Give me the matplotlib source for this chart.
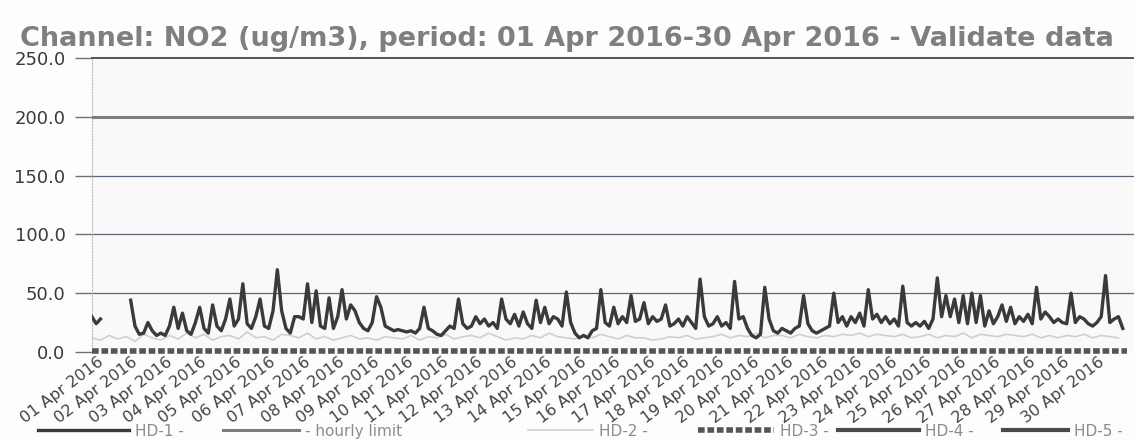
import numpy as np
import matplotlib.pyplot as plt

# NO2 hourly data, read every 3 hours (8 values per day), 01-30 Apr 2016
nan = np.nan
hd1 = [
    30, 24, 28, nan, nan, nan, nan, nan,   # 01
    nan, 44, 22, 15, 16, 25, 18, 14,       # 02
    16, 14, 22, 38, 20, 33, 18, 15,        # 03
    25, 38, 20, 16, 40, 22, 18, 28,        # 04
    45, 22, 28, 58, 24, 20, 30, 45,        # 05
    22, 20, 35, 70, 35, 20, 16, 30,        # 06
    30, 28, 58, 25, 52, 22, 20, 46,        # 07
    20, 30, 53, 28, 40, 35, 25, 20,        # 08
    18, 25, 47, 38, 22, 20, 18, 19,        # 09
    18, 17, 18, 16, 20, 38, 20, 18,        # 10
    15, 14, 18, 22, 20, 45, 24, 20,        # 11
    22, 30, 24, 28, 22, 25, 20, 45,        # 12
    28, 24, 32, 22, 34, 24, 20, 44,        # 13
    25, 38, 24, 30, 28, 22, 51, 25,        # 14
    16, 12, 14, 12, 18, 20, 53, 25,        # 15
    22, 38, 24, 30, 25, 48, 26, 28,        # 16
    42, 24, 30, 26, 28, 40, 22, 24,        # 17
    28, 22, 30, 25, 20, 62, 30, 22,        # 18
    24, 30, 22, 25, 20, 60, 28, 30,        # 19
    20, 14, 12, 15, 55, 28, 18, 16,        # 20
    20, 18, 16, 20, 22, 48, 24, 18,        # 21
    16, 18, 20, 22, 50, 25, 30, 22,        # 22
    30, 25, 33, 22, 53, 28, 32, 25,        # 23
    30, 24, 28, 22, 56, 25, 22, 25,        # 24
    22, 26, 20, 28, 63, 30, 48, 30,        # 25
    45, 25, 48, 24, 50, 25, 48, 22,        # 26
    35, 24, 30, 40, 26, 38, 24, 30,        # 27
    26, 32, 24, 55, 28, 34, 30, 25,        # 28
    28, 25, 24, 50, 25, 30, 28, 24,        # 29
    22, 25, 30, 65, 25, 28, 30, 20,        # 30
]
# faint second station, every 6 hours
hd2 = [
    12, 10, 14, 11, 13, 9, 15, 12, 10, 14, 11, 16, 12, 15, 10, 13,
    14, 11, 17, 12, 13, 10, 15, 14, 12, 16, 11, 13, 10, 12, 14, 11,
    12, 10, 13, 12, 11, 14, 10, 13, 12, 15, 11, 13, 14, 12, 16, 13,
    10, 12, 11, 14, 12, 16, 13, 12, 11, 14, 12, 15, 13, 11, 14, 12,
    12, 10, 11, 13, 12, 14, 11, 12, 13, 15, 12, 14, 13, 16, 12, 14,
    14, 12, 15, 13, 12, 14, 13, 15, 14, 16, 13, 15, 14, 13, 15, 12,
    13, 15, 12, 14, 13, 16, 12, 15, 14, 13, 15, 14, 13, 15, 12, 14,
    12, 14, 13, 15, 12, 14, 13, 12,
]
hd3 = [0.8] * 31
hourly_limit = [200, 200]
days = ["%02d Apr 2016" % d for d in range(1, 31)]
yvals = [0, 50, 100, 150, 200, 250]

t1 = np.arange(len(hd1)) / 8.0
t2 = np.arange(len(hd2)) / 4.0

fig = plt.figure(figsize=(11.34, 4.41), dpi=100)
fig.patch.set_facecolor("#fdfdfd")
ax = fig.add_axes([0.081, 0.202, 0.919, 0.666])
ax.set_facecolor("#f9f9f9")

for v in [50, 100, 150]:
    ax.axhline(v, color="#5a6675", lw=0.9, zorder=1)

l1, = ax.plot(t1, hd1, color="#3a3a3a", lw=2.4, zorder=4, label="HD-1 -")
lh, = ax.plot([0, 30.2], hourly_limit, color="#7d7d7d", lw=2.2, zorder=3, label="- hourly limit")
l2, = ax.plot(t2, hd2, color="#cfcfcf", lw=1.2, zorder=2, label="HD-2 -")
l3, = ax.plot(np.arange(31), hd3, color="#555555", lw=4, ls=(0, (1.2, 0.5)), zorder=5,
              clip_on=False, label="HD-3 -")
l4, = ax.plot([], [], color="#4a4a4a", lw=3, label="HD-4 -")
l5, = ax.plot([], [], color="#4a4a4a", lw=3, label="HD-5 -")

ax.set_xlim(0, 30.2)
ax.set_ylim(0, 250)
ax.set_yticks(yvals)
ax.set_yticklabels(["%.1f" % v for v in yvals], fontsize=13, color="#3a3a3a")
ax.tick_params(axis="y", length=12, width=1.0, color="#707070", pad=7)

ax.set_xticks(np.arange(30) + 0.15)
ax.set_xticklabels(days, rotation=37, ha="right", rotation_mode="anchor",
                   fontsize=11.5, color="#444444")
ax.tick_params(axis="x", length=0, pad=2)

for s in ["right", "bottom"]:
    ax.spines[s].set_visible(False)
ax.spines["top"].set_color("#555555")
ax.spines["top"].set_linewidth(1.4)
ax.spines["left"].set_color("#bbbbbb")
ax.spines["left"].set_linestyle(":")

fig.text(0.5, 0.912, "Channel: NO2 (ug/m3), period: 01 Apr 2016-30 Apr 2016 - Validate data",
         ha="center", va="center", fontsize=19.5, fontweight="bold", color="#7f7f7f")

# legend entries laid out one by one along the bottom
leg_x = [30, 215, 520, 690, 830, 995]
leg_len = [6.0, 5.0, 4.3, 5.0, 5.3, 4.3]
for h, x0, hl in zip([l1, lh, l2, l3, l4, l5], leg_x, leg_len):
    lg = fig.legend([h], [h.get_label()], loc="center left",
                    bbox_to_anchor=(x0 / 1134, 0.022), frameon=False, fontsize=11,
                    handlelength=hl, handletextpad=0.4, borderpad=0, labelcolor="#8c8c8c")

fig.savefig("out.png", dpi=100, facecolor=fig.get_facecolor())
